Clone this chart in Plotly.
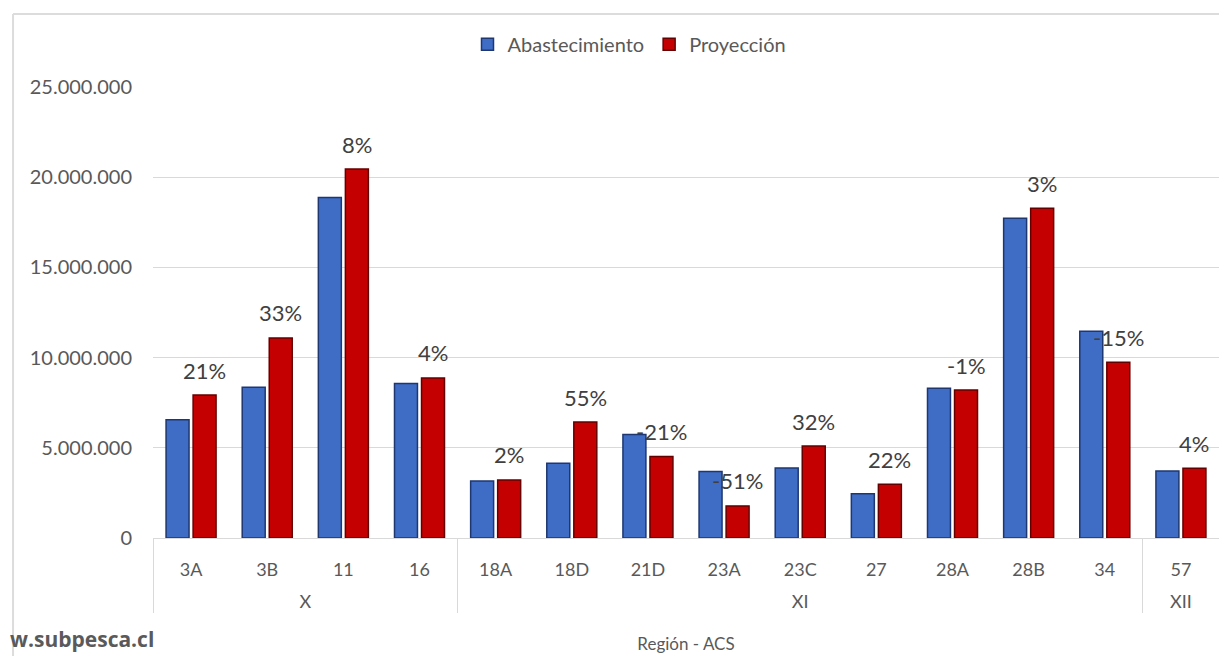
import plotly.graph_objects as go

# Datos
regiones = ["X"] * 4 + ["XI"] * 9 + ["XII"]
acs = ["3A", "3B", "11", "16", "18A", "18D", "21D", "23A", "23C", "27", "28A", "28B", "34", "57"]
abastecimiento = [6550000, 8350000, 18870000, 8560000, 3160000, 4150000, 5740000,
                  3680000, 3880000, 2450000, 8300000, 17720000, 11460000, 3720000]
proyeccion = [7920000, 11090000, 20450000, 8870000, 3220000, 6430000, 4520000,
              1780000, 5100000, 2980000, 8200000, 18280000, 9740000, 3870000]
variacion = ["21%", "33%", "8%", "4%", "2%", "55%", "-21%", "-51%", "32%", "22%",
             "-1%", "3%", "-15%", "4%"]
y_ticks = [0, 5000000, 10000000, 15000000, 20000000, 25000000]

FONT = "Lato"
GRIS = "#595959"
BARGAP = 0.29

# segunda fila del eje un poco mas abajo (como en Excel)
x_cats = [["<br>" + r for r in regiones], acs]

fig = go.Figure()

fig.add_trace(go.Bar(
    x=x_cats,
    y=abastecimiento,
    name="Abastecimiento",
    marker=dict(color="#3F6DC6", line=dict(color="#1E3770", width=1.5)),
))

fig.add_trace(go.Bar(
    x=x_cats,
    y=proyeccion,
    name="Proyección",
    marker=dict(color="#C40000", line=dict(color="#650000", width=1.5)),
))

# etiquetas de variacion sobre la barra roja
offset = (1 - BARGAP) / 4
for i, (val, txt) in enumerate(zip(proyeccion, variacion)):
    fig.add_annotation(
        x=i + offset, y=val, text=txt, showarrow=False,
        yshift=25, font=dict(family=FONT, size=22, color="#404040"),
    )

# marca de agua
fig.add_annotation(
    xref="paper", yref="paper", x=-0.136, y=-0.259, xanchor="left", yanchor="bottom",
    text="<b>w.subpesca.cl</b>", showarrow=False,
    font=dict(family="Open Sans", size=21, color="#5a5a5a"),
)

# marco del grafico
fig.add_shape(type="line", xref="paper", yref="paper", x0=-0.1313, x1=-0.1313,
              y0=1.1619, y1=-0.27, line=dict(color="#dcdcdc", width=2))
fig.add_shape(type="line", xref="paper", yref="paper", x0=-0.1313, x1=1.01,
              y0=1.1619, y1=1.1619, line=dict(color="#dcdcdc", width=2))

fig.update_layout(
    width=1219, height=648,
    margin=dict(l=145, r=8, t=79, b=118),
    paper_bgcolor="white", plot_bgcolor="white",
    barmode="group", bargap=BARGAP, bargroupgap=0.15,
    separators=",.",
    font=dict(family=FONT, size=17, color=GRIS),
    showlegend=True,
    legend=dict(orientation="h", x=0.447, xanchor="center", y=1.095, yanchor="middle",
                font=dict(family=FONT, size=20, color=GRIS), itemwidth=30,
                traceorder="normal"),
    xaxis=dict(
        type="multicategory", automargin=False,
        showline=True, linecolor="#d9d9d9", linewidth=1,
        showdividers=True, dividercolor="#d9d9d9", dividerwidth=1,
        ticklabelstandoff=15,
        tickfont=dict(family=FONT, size=18, color=GRIS),
        title=dict(text="Región - ACS", font=dict(family=FONT, size=17, color=GRIS), standoff=27),
        showgrid=False,
    ),
    yaxis=dict(
        range=[0, 25000000], tickvals=y_ticks, tickformat=",d", automargin=False,
        gridcolor="#d9d9d9", gridwidth=1, zeroline=False, showline=False,
        tickfont=dict(family=FONT, size=20, color=GRIS),
        ticklabelstandoff=20,
    ),
)

fig.write_html("out.html")
